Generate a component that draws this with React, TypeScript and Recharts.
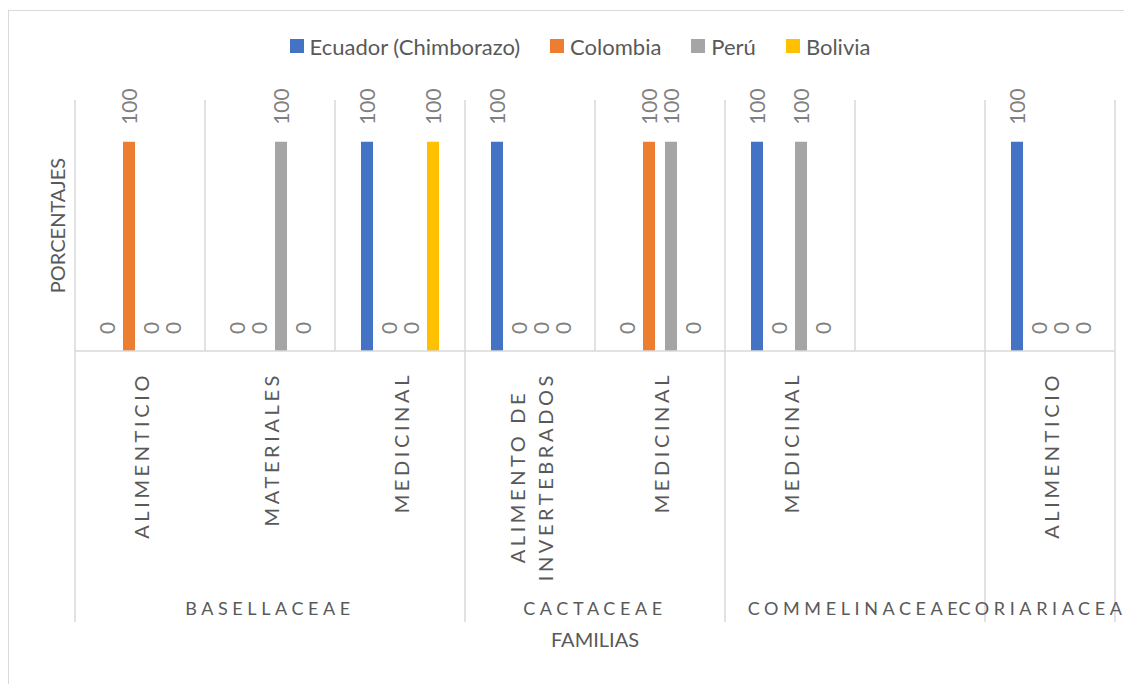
import React from 'react';
import { BarChart, Bar, XAxis, YAxis, Legend, LabelList } from 'recharts';

const families = [
  'BASELLACEAE',
  'BASELLACEAE',
  'BASELLACEAE',
  'CACTACEAE',
  'CACTACEAE',
  'COMMELINACEAE',
  'COMMELINACEAE',
  'CORIARIACEAE',
];
const uses = [
  'ALIMENTICIO',
  'MATERIALES',
  'MEDICINAL',
  'ALIMENTO DE\nINVERTEBRADOS',
  'MEDICINAL',
  'MEDICINAL',
  '',
  'ALIMENTICIO',
];
const ecuador = [0, 0, 100, 100, 0, 100, null, 100];
const colombia = [100, 0, 0, 0, 100, 0, null, 0];
const peru = [0, 100, 0, 0, 100, 100, null, 0];
const bolivia = [0, 0, 100, 0, 0, 0, null, 0];

const SERIES = [
  { key: 'ecuador', name: 'Ecuador (Chimborazo)', color: '#4472c4' },
  { key: 'colombia', name: 'Colombia', color: '#ed7d31' },
  { key: 'peru', name: 'Perú', color: '#a5a5a5' },
  { key: 'bolivia', name: 'Bolivia', color: '#ffc000' },
];

const data = uses.map((use, i) => ({
  id: `${families[i]}-${i}`,
  family: families[i],
  use,
  ecuador: ecuador[i],
  colombia: colombia[i],
  peru: peru[i],
  bolivia: bolivia[i],
}));

const FONT = 'Lato, "Open Sans", sans-serif';
const TEXT = '#595959';
const GRID = '#d9d9d9';

const W = 1142;
const H = 688;
const MARGIN = { top: 65, right: 36, bottom: 78, left: 0 };
const LEGEND_H = 24;
const Y_AXIS_W = 66;
const X_AXIS_H = 270;
const PLOT_H = H - MARGIN.top - LEGEND_H - MARGIN.bottom - X_AXIS_H;
const BAND = (W - MARGIN.left - MARGIN.right - Y_AXIS_W) / data.length;

const CAT_SIZE = 20;
const CAT_SPACING = 3.6;
const GROUP_SIZE = 18;
const GROUP_SPACING = 4.6;

let measureCtx: CanvasRenderingContext2D | null = null;
function textLen(s: string, size: number, spacing: number) {
  if (!measureCtx && typeof document !== 'undefined') {
    measureCtx = document.createElement('canvas').getContext('2d');
  }
  if (!measureCtx) return s.length * size * 0.6 + s.length * spacing;
  measureCtx.font = `${size}px Lato`;
  return measureCtx.measureText(s).width + spacing * s.length;
}

function CategoryTick(props: any) {
  const { x, y, payload } = props;
  const i: number = props.index ?? payload?.index ?? 0;
  const half = BAND / 2;
  const left = x - half;
  const isGroupStart = i === 0 || families[i] !== families[i - 1];
  const isLast = i === data.length - 1;

  let count = 0;
  if (isGroupStart) {
    for (let j = i; j < families.length && families[j] === families[i]; j++) count++;
  }

  const lines = uses[i] ? uses[i].split('\n') : [];
  const maxLen = Math.max(0, ...lines.map((l) => textLen(l, CAT_SIZE, CAT_SPACING)));
  const yc = y + 21 + maxLen / 2;

  return (
    <g>
      {isGroupStart ? (
        <line x1={left} x2={left} y1={y - PLOT_H} y2={y + 271} stroke={GRID} strokeWidth={1.5} />
      ) : (
        <line x1={left} x2={left} y1={y - PLOT_H} y2={y} stroke={GRID} strokeWidth={1.5} />
      )}
      {isLast && (
        <line x1={x + half} x2={x + half} y1={y - PLOT_H} y2={y + 271} stroke={GRID} strokeWidth={1.5} />
      )}
      {lines.map((line, j) => {
        const cx = x + 1 + (j - (lines.length - 1) / 2) * 28;
        return (
          <text
            key={j}
            x={cx}
            y={yc}
            transform={`rotate(-90, ${cx}, ${yc})`}
            textAnchor="middle"
            dominantBaseline="central"
            fontSize={CAT_SIZE}
            letterSpacing={CAT_SPACING}
            fontFamily={FONT}
            fill={TEXT}
          >
            {line}
          </text>
        );
      })}
      {isGroupStart && (
        <text
          x={left + (count * BAND) / 2}
          y={y + 264}
          textAnchor="middle"
          fontSize={GROUP_SIZE}
          letterSpacing={GROUP_SPACING}
          fontFamily={FONT}
          fill={TEXT}
        >
          {families[i]}
        </text>
      )}
    </g>
  );
}

function ValueLabel(props: any) {
  const { x, y, width, value } = props;
  if (value === null || value === undefined) return null;
  const cx = Number(x) + Number(width) / 2;
  const ty = Number(y) - 17;
  return (
    <text
      x={cx}
      y={ty}
      transform={`rotate(-90, ${cx}, ${ty})`}
      textAnchor="start"
      dominantBaseline="central"
      fontSize={21}
      fontFamily={FONT}
      fill="#7f7f7f"
    >
      {value}
    </text>
  );
}

function YTitle(props: any) {
  const vb = props.viewBox || {};
  const tx = vb.x + vb.width - 18.5;
  const ty = vb.y + vb.height / 2;
  return (
    <text
      x={tx}
      y={ty}
      transform={`rotate(-90, ${tx}, ${ty})`}
      textAnchor="middle"
      dominantBaseline="central"
      fontSize={20}
      fontFamily={FONT}
      fill={TEXT}
    >
      PORCENTAJES
    </text>
  );
}

function XTitle(props: any) {
  const vb = props.viewBox || {};
  return (
    <text
      x={vb.x + vb.width / 2}
      y={vb.y + vb.height + 26}
      textAnchor="middle"
      fontSize={20}
      fontFamily={FONT}
      fill={TEXT}
    >
      FAMILIAS
    </text>
  );
}

function LegendContent() {
  return (
    <div
      style={{
        height: LEGEND_H,
        display: 'flex',
        justifyContent: 'center',
        alignItems: 'center',
        gap: 30,
        fontFamily: FONT,
        fontSize: 22,
        color: TEXT,
      }}
    >
      {SERIES.map((s) => (
        <div key={s.key} style={{ display: 'flex', alignItems: 'center', gap: 6 }}>
          <span style={{ width: 14, height: 14, background: s.color, display: 'inline-block' }} />
          <span>{s.name}</span>
        </div>
      ))}
    </div>
  );
}

// zero values still need a (hairline) rect so their "0" label gets placed
const zeroPointSize = (v: any) => (v === 0 ? 0.01 : 0);

export default function App() {
  return (
    <div
      style={{
        position: 'relative',
        top: 2,
        width: W + 2,
        height: H + 2,
        border: `1px solid ${GRID}`,
        boxSizing: 'border-box',
        background: '#fff',
      }}
    >
      <style>{'body{overflow:hidden}'}</style>
      <BarChart width={W} height={H} data={data} margin={MARGIN} barSize={12} barGap={10}>
        <Legend
          verticalAlign="top"
          align="center"
          wrapperStyle={{ top: 23, left: 0, width: W }}
          content={() => <LegendContent />}
        />
        <XAxis
          dataKey="id"
          interval={0}
          height={X_AXIS_H}
          tickSize={0}
          tickMargin={0}
          tickLine={false}
          axisLine={{ stroke: GRID, strokeWidth: 1.5 }}
          tick={(p: any) => <CategoryTick {...p} />}
          label={(p: any) => <XTitle {...p} />}
        />
        <YAxis
          domain={[0, 120]}
          ticks={[]}
          width={Y_AXIS_W}
          tick={false}
          axisLine={false}
          tickLine={false}
          label={(p: any) => <YTitle {...p} />}
        />
        {SERIES.map((s) => (
          <Bar
            key={s.key}
            dataKey={s.key}
            name={s.name}
            fill={s.color}
            minPointSize={zeroPointSize}
            isAnimationActive={false}
          >
            <LabelList dataKey={s.key} content={(p: any) => <ValueLabel {...p} />} />
          </Bar>
        ))}
      </BarChart>
    </div>
  );
}
